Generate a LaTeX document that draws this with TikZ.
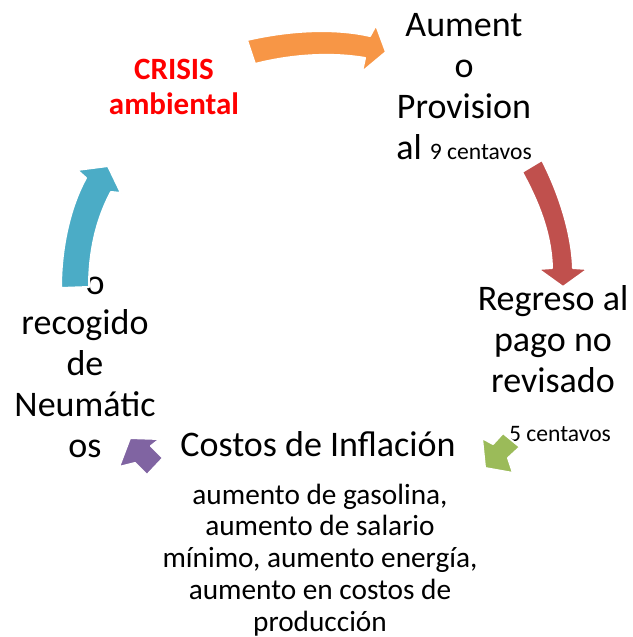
\documentclass[tikz,border=0pt]{standalone}
\usepackage{fontspec}
\setmainfont{Carlito}
\usetikzlibrary{positioning}
\definecolor{arrowOrange}{RGB}{247,150,70}
\definecolor{arrowRed}{RGB}{192,80,77}
\definecolor{arrowGreen}{RGB}{155,187,89}
\definecolor{arrowPurple}{RGB}{128,100,162}
\definecolor{arrowCyan}{RGB}{75,172,198}

\begin{document}
\begin{tikzpicture}[x=1pt,y=-1pt,
    main text/.style={align=center,inner sep=0pt,anchor=base,font=\fontsize{36}{40.7}\selectfont},
    note text/.style={align=center,inner sep=0pt,anchor=base,font=\fontsize{29.3}{31.7}\selectfont},
    small text/.style={inner sep=0pt,anchor=base,font=\fontsize{23.6}{28}\selectfont},
    cycle arrow/.style={draw=white,line width=2pt,line join=round,fill=#1}]
  \useasboundingbox (0,0) rectangle (632,637);

  % texts of the cycle (base = last line)
  \node[main text,font=\bfseries\fontsize{31}{35}\selectfont,text=red] (crisis) at (174,114) {CRISIS\\ambiental};
  \node[main text] (aumento) at (464,159) {Aument\\o\\Provision\\al {\fontsize{23.6}{28}\selectfont 9 centavos}};
  \node[main text] (regreso) at (553,392) {Regreso al\\pago no\\revisado};
  \node[small text] (centavos) at (560,441) {5 centavos};
  \node[main text] (costos) at (318,456) {Costos de Inflación};
  \node[note text] (detalle) at (320,631) {aumento de gasolina,\\aumento de salario\\mínimo, aumento energía,\\aumento en costos de\\producción};
  \node[main text] (neumaticos) at (85,457) {\hspace*{20pt}o\\recogido\\de\\Neumátic\\os};

  % arrows
  \filldraw[cycle arrow=arrowOrange] (247,40) .. controls (290,30) and (335,28) .. (370,36)
    -- (376,25) -- (386,52) -- (362,72) -- (365,58)
    .. controls (330,52) and (290,55) .. (255,64) -- cycle;
  \filldraw[cycle arrow=arrowRed] (542,160) .. controls (560,195) and (572,235) .. (573,268)
    -- (588,269) -- (563,287) -- (538,269) -- (552,268)
    .. controls (551,235) and (540,205) .. (522,172) -- cycle;
  \filldraw[cycle arrow=arrowGreen] (482,438) -- (493,444) -- (503,433) -- (520,447)
    -- (508,458) -- (513,473) -- (485,468) -- cycle;
  \filldraw[cycle arrow=arrowPurple] (130,438) -- (160,439) -- (151,446) -- (163,458)
    -- (147,475) -- (135,463) -- (119,467) -- cycle;
  \filldraw[cycle arrow=arrowCyan] (89,287) .. controls (89,250) and (97,218) .. (111,192)
    -- (121,193) -- (108,166) -- (77,170) -- (86,178)
    .. controls (71,205) and (61,245) .. (61,288) -- cycle;
\end{tikzpicture}
\end{document}
